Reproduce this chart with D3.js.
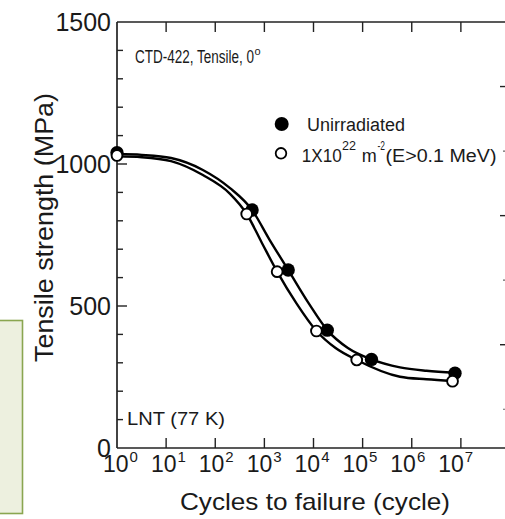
<!DOCTYPE html>
<html><head><meta charset="utf-8">
<script src="https://cdn.jsdelivr.net/npm/d3@7"></script>
<style>
html,body{margin:0;padding:0;background:#fff;overflow:hidden;}
text{font-family:"Liberation Sans",Arial,Helvetica,sans-serif;fill:#1a1a1a;}
</style></head>
<body>
<svg id="chart" width="505" height="519"></svg>
<script>
// ---- data ----
const xTickExponents = [0, 1, 2, 3, 4, 5, 6, 7];
const yTickValues = [0, 500, 1000, 1500];
const yMinorValues = [100, 200, 300, 400, 600, 700, 800, 900, 1100, 1200, 1300, 1400];

// measured points (cycles, MPa)
const unirrCycles = [1, 562, 3055, 19055, 151356, 7585776];
const unirrStrength = [1040, 838, 627, 415, 312, 263];
const irrCycles = [1, 437, 1820, 11482, 75858, 6760830];
const irrStrength = [1030, 824, 621, 412, 310, 235];

// fitted curves (cycles, MPa)
const unirrFitCycles = [1, 3.2, 12.6, 56, 200, 562, 1259, 3055, 7943, 19055, 50119, 151356, 575440, 1995262, 7585776];
const unirrFitStrength = [1035, 1032, 1021, 979, 915, 838, 735, 627, 510, 415, 352, 312, 284, 272, 265];
const irrFitCycles = [1, 3.2, 12.6, 56, 200, 437, 891, 1820, 4467, 11482, 28184, 75858, 575440, 1995262, 6760830];
const irrFitStrength = [1027, 1024, 1010, 961, 895, 824, 722, 621, 510, 412, 352, 310, 251, 242, 236];

// secondary (right) axis ticks
const rightMajor = [1, 2, 3];
const rightMinor = [0.5, 1.5, 2.5];

const legendLabels = ["Unirradiated", "1X10", "22", " m", "-2", "(E>0.1 MeV)"];

// ---- drawing ----
const svg = d3.select("#chart");
const x = d3.scaleLog().domain([1, 1e8]).range([117, 510]);
const y = d3.scaleLinear().domain([0, 1500]).range([448, 22]);
const yR = d3.scaleLinear().domain([0.2, 3.5]).range([448, 22]);

// left green box fragment
svg.append("rect").attr("x", -2).attr("y", 320.5).attr("width", 24.5).attr("height", 193)
  .attr("fill", "#edf0df").attr("stroke", "#8aa650").attr("stroke-width", 1.6);

const axisStroke = "#222";
const g = svg.append("g");
// frame lines
g.append("line").attr("x1", x(1)).attr("x2", 510).attr("y1", y(0)).attr("y2", y(0)).attr("stroke", axisStroke).attr("stroke-width", 1.7);
g.append("line").attr("x1", x(1)).attr("x2", 510).attr("y1", y(1500)).attr("y2", y(1500)).attr("stroke", axisStroke).attr("stroke-width", 1.7);
g.append("line").attr("x1", x(1)).attr("x2", x(1)).attr("y1", y(0)).attr("y2", y(1500)).attr("stroke", axisStroke).attr("stroke-width", 1.7);

// bottom & top ticks
xTickExponents.filter(e => e > 0).forEach(e => {
  const px = x(Math.pow(10, e));
  g.append("line").attr("x1", px).attr("x2", px).attr("y1", y(0)).attr("y2", y(0) - 10).attr("stroke", axisStroke).attr("stroke-width", 1.4);
  g.append("line").attr("x1", px).attr("x2", px).attr("y1", y(1500)).attr("y2", y(1500) + 10).attr("stroke", axisStroke).attr("stroke-width", 1.4);
});
// left ticks
yTickValues.filter(v => v > 0 && v < 1500).forEach(v => {
  g.append("line").attr("x1", x(1)).attr("x2", x(1) + 10).attr("y1", y(v)).attr("y2", y(v)).attr("stroke", axisStroke).attr("stroke-width", 1.4);
});
yMinorValues.forEach(v => {
  g.append("line").attr("x1", x(1)).attr("x2", x(1) + 6).attr("y1", y(v)).attr("y2", y(v)).attr("stroke", axisStroke).attr("stroke-width", 1.4);
});
// right ticks (axis off-canvas)
rightMajor.forEach(v => {
  g.append("line").attr("x1", 510).attr("x2", 500).attr("y1", yR(v)).attr("y2", yR(v)).attr("stroke", axisStroke).attr("stroke-width", 1.4);
});
rightMinor.forEach(v => {
  g.append("line").attr("x1", 510).attr("x2", 503).attr("y1", yR(v)).attr("y2", yR(v)).attr("stroke", "#666").attr("stroke-width", 1.2);
});

// y tick labels
yTickValues.forEach(v => {
  g.append("text").attr("x", 111).attr("y", y(v) + 8.5).attr("text-anchor", "end")
    .attr("font-size", 25).text(String(v));
});
// x tick labels
xTickExponents.forEach(e => {
  const px = x(Math.pow(10, e)) - 14 - 1.24 * e;
  const t = g.append("text").attr("x", px).attr("y", 472).attr("font-size", 23);
  t.append("tspan").text("10");
  t.append("tspan").attr("font-size", 15).attr("dy", -10).attr("dx", 1).text(String(e));
});

// axis titles
g.append("text").attr("x", 180).attr("y", 510).attr("font-size", 24)
  .attr("textLength", 270).attr("lengthAdjust", "spacingAndGlyphs").text("Cycles to failure (cycle)");
g.append("text").attr("transform", "translate(53,227.5) rotate(-90)").attr("text-anchor", "middle")
  .attr("font-size", 26).attr("textLength", 269).attr("lengthAdjust", "spacingAndGlyphs")
  .text("Tensile strength (MPa)");

// curves
const line = d3.line().x(d => x(d[0])).y(d => y(d[1])).curve(d3.curveMonotoneX);
[[unirrFitCycles, unirrFitStrength], [irrFitCycles, irrFitStrength]].forEach(([cs, ss]) => {
  svg.append("path").datum(cs.map((c, i) => [c, ss[i]])).attr("d", line)
    .attr("fill", "none").attr("stroke", "#000").attr("stroke-width", 2.4);
});

// points
svg.selectAll(".pu").data(unirrCycles.map((c, i) => [c, unirrStrength[i]])).enter()
  .append("circle").attr("cx", d => x(d[0])).attr("cy", d => y(d[1])).attr("r", 6.7).attr("fill", "#000");
svg.selectAll(".pi").data(irrCycles.map((c, i) => [c, irrStrength[i]])).enter()
  .append("circle").attr("cx", d => x(d[0])).attr("cy", d => y(d[1])).attr("r", 5.4)
  .attr("fill", "#fff").attr("stroke", "#000").attr("stroke-width", 1.9);

// annotations
svg.append("text").attr("x", 135).attr("y", 63).attr("font-size", 18)
  .attr("textLength", 119).attr("lengthAdjust", "spacingAndGlyphs").text("CTD-422, Tensile, 0");
svg.append("text").attr("x", 254.5).attr("y", 55).attr("font-size", 11).text("o");
svg.append("text").attr("x", 127).attr("y", 425).attr("font-size", 19)
  .attr("textLength", 98).attr("lengthAdjust", "spacingAndGlyphs").text("LNT (77 K)");

// legend
svg.append("circle").attr("cx", 281.7).attr("cy", 124).attr("r", 7).attr("fill", "#000");
svg.append("text").attr("x", 307).attr("y", 130.5).attr("font-size", 18)
  .attr("textLength", 98).attr("lengthAdjust", "spacingAndGlyphs").text(legendLabels[0]);
svg.append("circle").attr("cx", 281).attr("cy", 153.3).attr("r", 5.3).attr("fill", "#fff").attr("stroke", "#000").attr("stroke-width", 1.8);
svg.append("text").attr("x", 301.7).attr("y", 161.5).attr("font-size", 18)
  .attr("textLength", 40).attr("lengthAdjust", "spacingAndGlyphs").text(legendLabels[1]);
svg.append("text").attr("x", 342).attr("y", 150).attr("font-size", 12)
  .attr("textLength", 14).attr("lengthAdjust", "spacingAndGlyphs").text(legendLabels[2]);
svg.append("text").attr("x", 361.7).attr("y", 161.5).attr("font-size", 18)
  .attr("textLength", 15).attr("lengthAdjust", "spacingAndGlyphs").text("m");
svg.append("text").attr("x", 377.5).attr("y", 150).attr("font-size", 12)
  .attr("textLength", 7.5).attr("lengthAdjust", "spacingAndGlyphs").text(legendLabels[4]);
svg.append("text").attr("x", 385.5).attr("y", 161.5).attr("font-size", 18)
  .attr("textLength", 111).attr("lengthAdjust", "spacingAndGlyphs").text(legendLabels[5]);
</script>
</body></html>
